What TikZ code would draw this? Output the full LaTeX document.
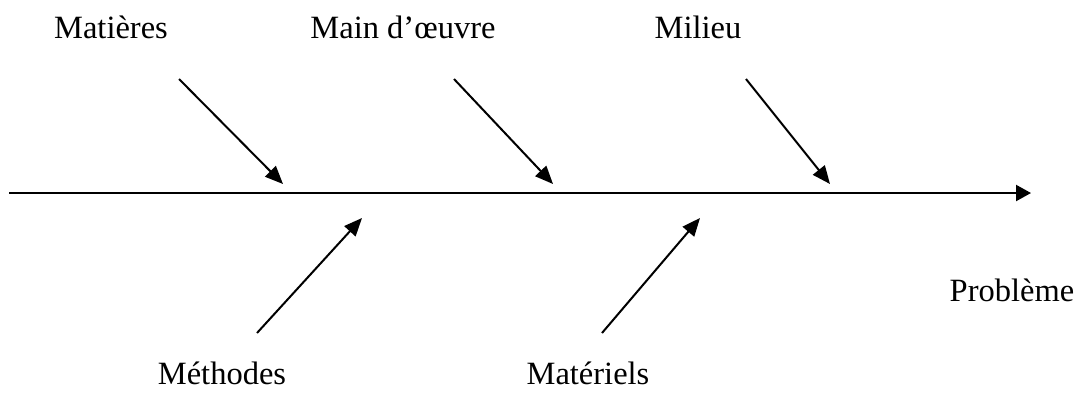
\documentclass[tikz,border=0pt]{standalone}
\usepackage{fontspec}
\setmainfont{Liberation Serif}
\usetikzlibrary{arrows.meta}
\begin{document}
\begin{tikzpicture}[x=1pt,y=-1pt,
  lbl/.style={inner sep=0pt,anchor=base,font=\fontsize{32.5}{39}\selectfont},
  bone/.style={line width=2pt,-{Triangle[length=18pt,width=15pt]}},
  spine/.style={line width=2.2pt,-{Triangle[length=15pt,width=16pt]}}]
\useasboundingbox (0,0) rectangle (1079,392);
% spine
\coordinate (s0) at (9,193);
\coordinate (s1) at (1031,193);
\draw[spine] (s0) -- (s1);
% upper bones
\coordinate (a0) at (179,79);  \coordinate (a1) at (283,184);
\coordinate (b0) at (454,79);  \coordinate (b1) at (553,184);
\coordinate (c0) at (746,79);  \coordinate (c1) at (830,184);
% lower bones
\coordinate (d0) at (257,333); \coordinate (d1) at (362,218);
\coordinate (e0) at (602,333); \coordinate (e1) at (700,218);
\draw[bone] (a0) -- (a1);
\draw[bone] (b0) -- (b1);
\draw[bone] (c0) -- (c1);
\draw[bone] (d0) -- (d1);
\draw[bone] (e0) -- (e1);
% labels
\node[lbl] (matieres) at (111,38) {Matières};
\node[lbl] (main) at (403,38) {Main d’œuvre};
\node[lbl] (milieu) at (698,38) {Milieu};
\node[lbl] (methodes) at (222,384) {Méthodes};
\node[lbl] (materiels) at (588,384) {Matériels};
\node[lbl] (probleme) at (1012,301) {Problème};
\end{tikzpicture}
\end{document}
